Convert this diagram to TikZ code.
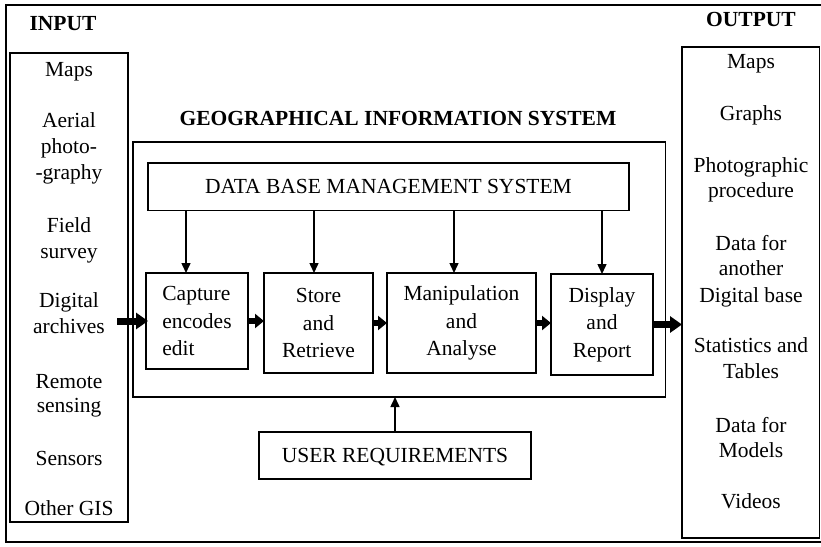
\documentclass[tikz,border=0pt]{standalone}
\usepackage{fontspec}
\setmainfont{Liberation Serif}
\usetikzlibrary{arrows.meta}
\begin{document}
\begin{tikzpicture}[x=1pt,y=-1pt,
  frame/.style={draw, line width=1.5pt, inner sep=0pt, outer sep=0pt},
  txt/.style={font=\fontsize{21.5}{26}\selectfont, inner sep=0pt, anchor=base},
  ttl/.style={font=\fontsize{21.5}{26}\selectfont\bfseries, inner sep=0pt, anchor=base},
  proc/.style={frame, font=\fontsize{21.5}{27.5}\selectfont},
  thinarrow/.style={line width=1.5pt, -{Triangle[length=10pt,width=9pt]}},
  midarrow/.style={line width=6pt, -{Triangle[length=9pt,width=14pt]}},
  thickarrow/.style={line width=7pt, -{Triangle[length=12pt,width=16pt]}}]
\useasboundingbox (0,0) rectangle (821,546);
\draw[line width=1.5pt] (6,5) rectangle (823,542);
% boxes
\node[frame, minimum width=118, minimum height=469] (input) at (69,287.5) {};
\node[frame, minimum width=137.5, minimum height=491] (output) at (750.75,292.5) {};
\node[frame, minimum width=532.5, minimum height=255] (gis) at (399.25,269.5) {};
\node[proc, minimum width=481, minimum height=47.5, text depth=0pt, text height=14pt] (dbms) at (388.5,186.75) {DATA BASE MANAGEMENT SYSTEM};
\node[proc, align=left, minimum width=102, minimum height=96] (capture) at (197,321) {Capture\\encodes\\edit};
\node[proc, align=center, minimum width=109, minimum height=100] (store) at (318.5,323) {Store\\and\\Retrieve};
\node[proc, align=center, minimum width=149, minimum height=100] (manip) at (461.5,323) {Manipulation\\and\\Analyse};
\node[proc, align=center, minimum width=102, minimum height=101] (display) at (602,324.5) {Display\\and\\Report};
\node[proc, minimum width=272, minimum height=47, text depth=0pt, text height=14pt] (user) at (395,455.5) {USER REQUIREMENTS};
% titles
\node[ttl] (tin) at (63,30) {INPUT};
\node[ttl] (tout) at (751,27) {OUTPUT};
\node[ttl] (tgis) at (398,125) {GEOGRAPHICAL INFORMATION SYSTEM};
% input items
\foreach \y/\t [count=\i] in {76/Maps,127/Aerial,153/photo-,179/-graphy,232/Field,258/survey,307/Digital,333/archives,388/Remote,412/sensing,465/Sensors,515/Other GIS}
  \node[txt] (in\i) at (69,\y) {\t};
% output items
\foreach \y/\t [count=\i] in {68/Maps,120/Graphs,172/Photographic,197/procedure,250/Data for,275/another,302/Digital base,352/Statistics and,378/Tables,432/Data for,457/Models,508/Videos}
  \node[txt] (out\i) at (751,\y) {\t};
% arrows from DBMS
\coordinate (c1) at ([xshift=40pt]capture.north west);
\coordinate (c2) at ([xshift=50pt]store.north west);
\coordinate (c3) at ([xshift=67pt]manip.north west);
\coordinate (c4) at ([xshift=51pt]display.north west);
\foreach \c in {c1,c2,c3,c4}
  \draw[thinarrow] (\c |- dbms.south) -- (\c);
% flow arrows
\coordinate (inA) at (117,321);
\draw[thickarrow] (inA) -- ([xshift=2pt]capture.west);
\draw[midarrow] (capture.east) -- (store.west |- capture.east);
\draw[midarrow] (store.east) -- (manip.west |- store.east);
\draw[midarrow] (manip.east) -- (display.west |- manip.east);
\draw[thickarrow] (display.east) -- (output.west |- display.east);
\draw[thinarrow] (user.north) -- (user.north |- gis.south);
\end{tikzpicture}
\end{document}
